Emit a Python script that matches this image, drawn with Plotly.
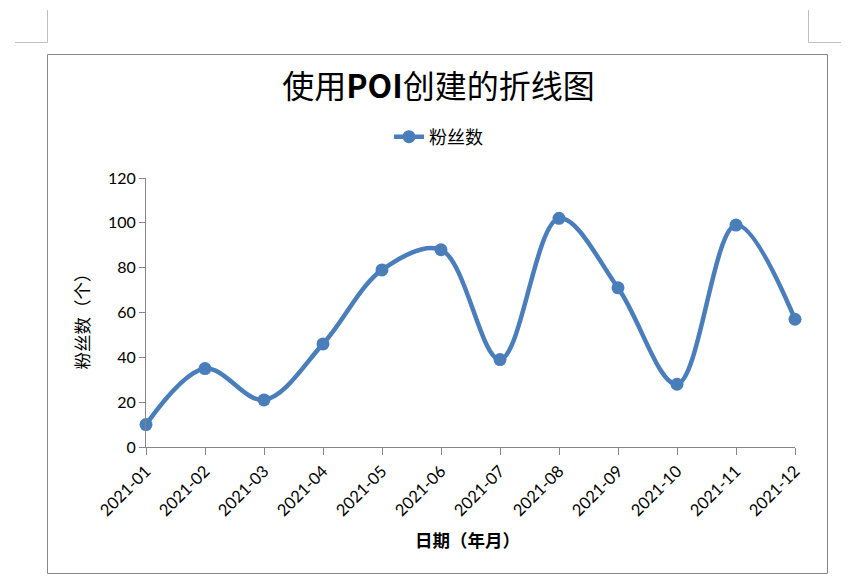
import plotly.graph_objects as go

months = ["2021-01", "2021-02", "2021-03", "2021-04", "2021-05", "2021-06",
          "2021-07", "2021-08", "2021-09", "2021-10", "2021-11", "2021-12"]
fans = [10, 35, 21, 46, 79, 88, 39, 102, 71, 28, 99, 57]
y_ticks = [0, 20, 40, 60, 80, 100, 120]

W, H = 865, 588
L, R, T, B = 146, 795, 178, 447


def px(x):
    return (x - L) / (R - L)


def py(y):
    return (B - y) / (B - T)


BLUE = "#4a7ebb"
AX = "#868686"
CJK = "Noto Sans CJK SC"
NUM = "Lato"

fig = go.Figure()
fig.add_trace(go.Scatter(
    x=months, y=fans, mode="lines+markers", name="粉丝数",
    line=dict(color=BLUE, width=4.5, shape="spline", smoothing=1),
    marker=dict(size=13, color=BLUE),
    cliponaxis=False,
))

shapes = [
    dict(type="rect", xref="paper", yref="paper",
         x0=px(47.5), x1=px(827.5), y0=py(54.5), y1=py(573.5),
         line=dict(color=AX, width=1), fillcolor="rgba(0,0,0,0)", layer="below"),
    dict(type="line", xref="paper", yref="paper", x0=px(47.5), x1=px(47.5), y0=py(10), y1=py(42.5),
         line=dict(color="#c0c0c0", width=1)),
    dict(type="line", xref="paper", yref="paper", x0=px(15), x1=px(47.5), y0=py(42.5), y1=py(42.5),
         line=dict(color="#c0c0c0", width=1)),
    dict(type="line", xref="paper", yref="paper", x0=px(808.5), x1=px(808.5), y0=py(10), y1=py(42.5),
         line=dict(color="#c0c0c0", width=1)),
    dict(type="line", xref="paper", yref="paper", x0=px(808.5), x1=px(841), y0=py(42.5), y1=py(42.5),
         line=dict(color="#c0c0c0", width=1)),
]

annotations = [
    dict(text="粉丝数（个）", xref="paper", yref="paper", x=px(80.5), y=py(317),
         xanchor="center", yanchor="middle",
         showarrow=False, textangle=-90, font=dict(family=CJK, size=17.5, color="#000000")),
    dict(text="<b>日期（年月）</b>", xref="paper", yref="paper", x=px(467), y=py(539),
         xanchor="center", yanchor="middle",
         showarrow=False, font=dict(family=CJK, size=17.5, color="#000000")),
]

fig.update_layout(
    width=W, height=H, autosize=False,
    margin=dict(l=L, r=W - R, t=T, b=H - B, pad=0),
    paper_bgcolor="white", plot_bgcolor="white",
    title=dict(text="使用<b>POI</b>创建的折线图", xref="container", yref="container",
               x=438.5 / W, y=1 - 87 / H, xanchor="center", yanchor="middle",
               font=dict(family=CJK, size=32, color="#000000")),
    showlegend=True,
    legend=dict(orientation="h", xref="paper", yref="paper", x=px(389), y=py(137),
                xanchor="left", yanchor="middle", font=dict(family=CJK, size=18, color="#000000"),
                bgcolor="rgba(0,0,0,0)"),
    xaxis=dict(type="category", categoryorder="array", categoryarray=months,
               range=[0, len(months) - 1], showline=True, linecolor=AX, linewidth=1,
               ticks="outside", ticklen=7, tickcolor=AX, tickwidth=1,
               tickangle=-45, tickfont=dict(family=NUM, size=16.5, color="#000000"),
               showgrid=False, zeroline=False),
    xaxis2=dict(type="linear", overlaying="x", anchor="y", side="bottom",
                range=[0, len(months) - 1], tickvals=list(range(len(months))),
                ticks="inside", ticklen=7, tickcolor=AX, tickwidth=1,
                showticklabels=False, showline=False, showgrid=False, zeroline=False),
    yaxis=dict(range=[0, 120], tickvals=y_ticks, showline=True, linecolor=AX, linewidth=1,
               ticks="outside", ticklen=6, tickcolor=AX, tickwidth=1,
               tickfont=dict(family=NUM, size=16, color="#000000"),
               showgrid=False, zeroline=False),
    shapes=shapes,
    annotations=annotations,
)

fig.write_html("out.html", config={"displayModeBar": False},
               post_script="document.body.style.margin='0';")
